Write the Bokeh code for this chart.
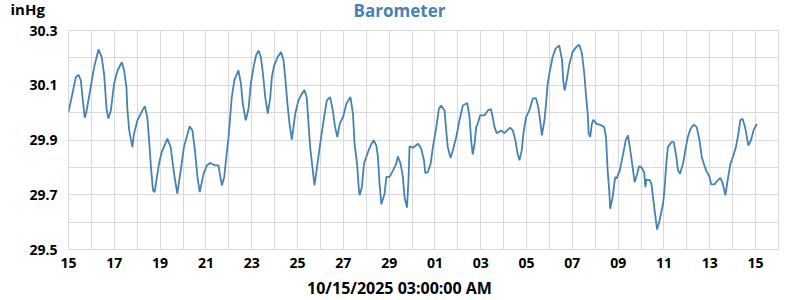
from datetime import datetime, timedelta
from bokeh.plotting import figure
from bokeh.layouts import column
from bokeh.models import FixedTicker, DatetimeTickFormatter, Range1d, ColumnDataSource
from bokeh.core.properties import value
from bokeh.embed import file_html
from bokeh.resources import INLINE

# ---- data (days after 2025-09-15 00:00, pressure in inHg) ----
days = [0.00, 0.17, 0.32, 0.44, 0.54, 0.61, 0.71, 0.78, 0.97, 1.12, 1.31, 1.45, 1.56, 1.66,
        1.74, 1.85, 1.99, 2.14, 2.33, 2.43, 2.53, 2.57, 2.65, 2.79, 2.86, 3.01, 3.23, 3.33,
        3.44, 3.52, 3.60, 3.69, 3.76, 3.95, 4.07, 4.32, 4.46, 4.61, 4.75, 4.90, 5.04, 5.29,
        5.41, 5.52, 5.63, 5.73, 5.90, 6.04, 6.19, 6.41, 6.55, 6.63, 6.70, 6.80, 6.89, 6.99,
        7.06, 7.13, 7.24, 7.42, 7.53, 7.61, 7.74, 7.86, 7.96, 8.08, 8.19, 8.30, 8.40, 8.49,
        8.59, 8.70, 8.81, 8.88, 8.98, 9.13, 9.28, 9.39, 9.46, 9.56, 9.65, 9.75, 9.90, 10.04,
        10.19, 10.30, 10.40, 10.48, 10.55, 10.65, 10.74, 10.87, 11.01, 11.16, 11.28, 11.42,
        11.54, 11.64, 11.74, 11.84, 11.99, 12.13, 12.31, 12.42, 12.49, 12.60, 12.67, 12.71,
        12.81, 12.90, 13.05, 13.19, 13.32, 13.44, 13.51, 13.58, 13.66, 13.80, 13.88, 14.02,
        14.17, 14.31, 14.38, 14.50, 14.60, 14.67, 14.78, 14.85, 14.89, 15.04, 15.26, 15.40,
        15.52, 15.58, 15.69, 15.81, 15.91, 16.06, 16.17, 16.27, 16.42, 16.49, 16.56, 16.68,
        16.78, 16.93, 17.07, 17.22, 17.41, 17.51, 17.58, 17.65, 17.73, 17.80, 17.87, 17.97,
        18.16, 18.31, 18.44, 18.52, 18.60, 18.70, 18.89, 19.03, 19.18, 19.28, 19.40, 19.51,
        19.61, 19.69, 19.79, 19.86, 19.98, 20.12, 20.27, 20.41, 20.51, 20.59, 20.67, 20.78,
        20.85, 20.92, 21.02, 21.14, 21.26, 21.43, 21.55, 21.60, 21.66, 21.75, 21.87, 22.01,
        22.16, 22.30, 22.42, 22.52, 22.59, 22.67, 22.71, 22.78, 22.85, 22.91, 23.06, 23.25,
        23.39, 23.47, 23.54, 23.61, 23.65, 23.76, 23.87, 23.93, 24.07, 24.22, 24.33, 24.43,
        24.55, 24.65, 24.72, 24.83, 24.91, 25.01, 25.13, 25.19, 25.23, 25.38, 25.45, 25.52,
        25.59, 25.70, 25.81, 25.96, 26.03, 26.10, 26.17, 26.32, 26.43, 26.54, 26.61, 26.70,
        26.83, 26.93, 27.04, 27.16, 27.30, 27.43, 27.55, 27.65, 27.74, 27.84, 27.99, 28.06,
        28.20, 28.35, 28.46, 28.57, 28.68, 28.78, 28.90, 29.01, 29.14, 29.25, 29.33, 29.43,
        29.54, 29.62, 29.68, 29.80, 29.91, 30.06]
pressure = [30.002, 30.069, 30.130, 30.138, 30.118, 30.057, 29.981, 30.002, 30.093, 30.166,
            30.231, 30.203, 30.136, 30.014, 29.978, 30.008, 30.105, 30.154, 30.184, 30.154,
            30.093, 30.014, 29.935, 29.874, 29.923, 29.972, 30.008, 30.023, 29.984, 29.899,
            29.801, 29.716, 29.710, 29.813, 29.856, 29.905, 29.874, 29.777, 29.704, 29.789,
            29.874, 29.950, 29.935, 29.862, 29.765, 29.710, 29.777, 29.807, 29.816, 29.807,
            29.807, 29.765, 29.734, 29.765, 29.838, 29.911, 29.984, 30.057, 30.118, 30.154,
            30.105, 30.032, 29.972, 30.014, 30.105, 30.166, 30.209, 30.227, 30.203, 30.142,
            30.057, 29.996, 30.057, 30.130, 30.172, 30.203, 30.221, 30.191, 30.130, 30.032,
            29.959, 29.901, 29.996, 30.045, 30.069, 30.083, 30.057, 29.959, 29.874, 29.801,
            29.734, 29.813, 29.899, 29.984, 30.045, 30.057, 30.008, 29.947, 29.911, 29.959,
            29.984, 30.032, 30.057, 29.996, 29.886, 29.813, 29.728, 29.698, 29.728, 29.813,
            29.850, 29.880, 29.899, 29.880, 29.838, 29.740, 29.665, 29.704, 29.765, 29.765,
            29.789, 29.813, 29.840, 29.813, 29.765, 29.692, 29.653, 29.765, 29.877, 29.872,
            29.886, 29.868, 29.826, 29.779, 29.783, 29.813, 29.874, 29.947, 30.014, 30.026,
            30.008, 29.935, 29.874, 29.834, 29.862, 29.911, 29.972, 30.026, 30.035, 29.984,
            29.899, 29.847, 29.886, 29.947, 29.959, 29.990, 29.990, 30.008, 30.013, 29.984,
            29.947, 29.925, 29.935, 29.925, 29.937, 29.945, 29.935, 29.899, 29.850, 29.826,
            29.862, 29.923, 29.984, 30.008, 30.051, 30.053, 30.020, 29.972, 29.917, 29.972,
            30.032, 30.105, 30.154, 30.203, 30.233, 30.245, 30.191, 30.118, 30.081, 30.118,
            30.178, 30.221, 30.239, 30.248, 30.215, 30.142, 30.069, 29.996, 29.925, 29.911,
            29.959, 29.974, 29.959, 29.954, 29.947, 29.911, 29.789, 29.716, 29.649, 29.692,
            29.765, 29.759, 29.789, 29.850, 29.899, 29.917, 29.850, 29.789, 29.746, 29.777,
            29.804, 29.801, 29.783, 29.728, 29.755, 29.753, 29.740, 29.692, 29.643, 29.573,
            29.607, 29.667, 29.728, 29.813, 29.874, 29.892, 29.892, 29.838, 29.789, 29.777,
            29.813, 29.862, 29.911, 29.941, 29.956, 29.947, 29.899, 29.838, 29.813, 29.789,
            29.765, 29.738, 29.738, 29.753, 29.762, 29.740, 29.698, 29.753, 29.813, 29.838,
            29.874, 29.923, 29.972, 29.978, 29.947, 29.911, 29.880, 29.899, 29.935, 29.959]

y_tick_values = [29.5, 29.7, 29.9, 30.1, 30.3]
y_grid_values = [29.5, 29.6, 29.7, 29.8, 29.9, 30.0, 30.1, 30.2, 30.3]
start_date = datetime(2025, 9, 15)
end_date = datetime(2025, 10, 16)
title_text = "Barometer"
unit_text = "inHg"
x_label_text = "10/15/2025 03:00:00 AM"

FONT = "Open Sans"
LINE_COLOR = "#4682b4"
GRID_COLOR = "#d9d9d9"
W = 800
TOP_H, MAIN_H, BOTTOM_H = 21, 255, 24


def ms(dt):
    return (dt - datetime(1970, 1, 1)).total_seconds() * 1000.0


def unaligned(f):
    try:
        f.frame_align = False
    except Exception:
        pass


def strip(height):
    f = figure(width=W, height=height, output_backend="svg", toolbar_location=None,
               x_range=Range1d(0, W), y_range=Range1d(0, height),
               x_axis_location=None, y_axis_location=None,
               min_border=0, min_border_left=0, min_border_right=0,
               min_border_top=0, min_border_bottom=0)
    f.grid.visible = False
    f.outline_line_color = None
    f.background_fill_color = "white"
    f.border_fill_color = "white"
    unaligned(f)
    return f


# ---- header strip: unit + title (y measured upward inside the strip) ----
top = strip(TOP_H)
top.text(x=[10], y=[TOP_H - 8.6], text=[unit_text], text_align="left",
         text_baseline="middle", text_font=value(FONT), text_font_style="bold",
         text_font_size="15px", text_color="black")
top.text(x=[399], y=[TOP_H - 10.3], text=[title_text], text_align="center",
         text_baseline="middle", text_font=value(FONT), text_font_style="bold",
         text_font_size="17px", text_color=LINE_COLOR)

# ---- main chart ----
times = [start_date + timedelta(days=d) for d in days]
source = ColumnDataSource(data=dict(t=times, p=pressure))

p = figure(width=W, height=MAIN_H, x_axis_type="datetime",
           output_backend="svg", toolbar_location=None,
           x_range=Range1d(start_date, end_date), y_range=Range1d(29.5, 30.3),
           min_border_left=68, min_border_right=22, min_border_top=9,
           min_border_bottom=27)
unaligned(p)

p.line("t", "p", source=source, line_color=LINE_COLOR, line_width=1.8)

n_days = (end_date - start_date).days
major_x = [ms(start_date + timedelta(days=i)) for i in range(0, n_days, 2)]
grid_x = [ms(start_date + timedelta(days=i)) for i in range(0, n_days + 1)]

p.xaxis.ticker = FixedTicker(ticks=major_x)
p.xgrid.ticker = FixedTicker(ticks=grid_x)
p.xaxis.formatter = DatetimeTickFormatter(
    microseconds="%d", milliseconds="%d", seconds="%d", minsec="%d",
    minutes="%d", hourmin="%d", hours="%d", days="%d", months="%d", years="%d")
p.yaxis.ticker = FixedTicker(ticks=y_tick_values)
p.ygrid.ticker = FixedTicker(ticks=y_grid_values)

for ax in (p.xaxis, p.yaxis):
    ax.axis_line_color = None
    ax.major_tick_line_color = None
    ax.minor_tick_line_color = None
    ax.major_label_text_font = FONT
    ax.major_label_text_font_style = "bold"
    ax.major_label_text_font_size = "14px"
    ax.major_label_text_color = "black"
p.xaxis.major_label_standoff = 2
p.yaxis.major_label_standoff = 5

p.xgrid.grid_line_color = GRID_COLOR
p.ygrid.grid_line_color = GRID_COLOR
p.outline_line_color = GRID_COLOR
p.background_fill_color = "white"
p.border_fill_color = "white"

# ---- footer strip: x axis caption ----
bottom = strip(BOTTOM_H)
bottom.text(x=[399], y=[BOTTOM_H - 11.3], text=[x_label_text], text_align="center",
            text_baseline="middle", text_font=value(FONT), text_font_style="bold",
            text_font_size="16px", text_color="black")

layout = column(top, p, bottom, spacing=0)
open("out.html", "w").write(file_html(layout, INLINE))
